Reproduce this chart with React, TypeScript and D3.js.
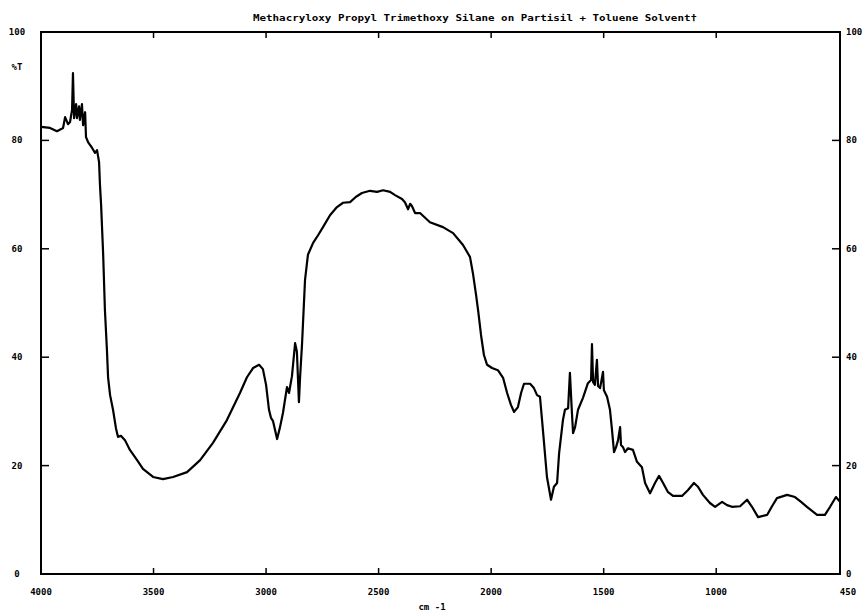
import React from "react";
import * as d3 from "d3";

// Wavenumbers (cm-1) and transmittance (%T)
const wavenumbers: number[] = [
  4000, 3960, 3929, 3902, 3893, 3880, 3871, 3862, 3858, 3853, 3844, 3840, 3831, 3827, 3818, 3813, 3804, 3800,
  3791, 3773, 3760, 3751, 3742, 3738, 3733, 3724, 3716, 3707, 3702, 3693, 3680, 3667, 3658, 3645, 3627, 3605,
  3573, 3547, 3502, 3458, 3413, 3351, 3293, 3236, 3174, 3116, 3085, 3058, 3031, 3014, 3000, 2987, 2978, 2969,
  2951, 2938, 2925, 2907, 2898, 2885, 2871, 2863, 2854, 2849, 2840, 2827, 2814, 2791, 2769, 2747, 2716, 2685,
  2658, 2627, 2600, 2574, 2538, 2507, 2480, 2449, 2427, 2396, 2383, 2369, 2360, 2352, 2338, 2316, 2272, 2214,
  2169, 2125, 2094, 2081, 2067, 2058, 2045, 2032, 2018, 1996, 1970, 1947, 1929, 1912, 1898, 1881, 1867, 1854,
  1827, 1810, 1796, 1783, 1770, 1752, 1734, 1721, 1707, 1698, 1681, 1672, 1658, 1650, 1641, 1636, 1627, 1614,
  1592, 1570, 1556, 1552, 1547, 1539, 1530, 1525, 1516, 1503, 1499, 1485, 1472, 1463, 1454, 1445, 1436, 1427,
  1423, 1414, 1405, 1392, 1370, 1352, 1330, 1316, 1294, 1272, 1254, 1236, 1214, 1192, 1152, 1125, 1099, 1081,
  1059, 1028, 1005, 974, 952, 930, 894, 863, 841, 814, 774, 752, 730, 685, 650, 623, 597, 552, 517, 494, 468, 450,
];
const transmittance: number[] = [
  82.5, 82.3, 81.7, 82.3, 84.3, 83.0, 83.4, 85.6, 92.4, 84.1, 86.7, 84.1, 86.3, 83.8, 86.7, 82.8, 85.2, 80.6,
  79.7, 78.6, 77.7, 78.2, 76.0, 71.8, 68.1, 59.2, 48.7, 41.3, 36.3, 33.0, 30.3, 26.9, 25.3, 25.5, 24.7, 22.9,
  21.0, 19.4, 17.9, 17.5, 17.9, 18.8, 21.0, 24.2, 28.4, 33.4, 36.3, 38.0, 38.6, 37.8, 34.9, 30.3, 28.8, 28.2,
  24.9, 27.1, 29.7, 34.5, 33.4, 36.5, 42.6, 41.0, 31.7, 36.2, 42.6, 54.2, 58.9, 61.1, 62.5, 64.0, 66.2, 67.7,
  68.5, 68.6, 69.6, 70.3, 70.7, 70.5, 70.8, 70.5, 69.9, 69.2, 68.6, 67.3, 68.3, 67.9, 66.6, 66.6, 64.9, 64.0,
  62.9, 60.7, 58.5, 55.5, 51.5, 48.7, 44.1, 40.4, 38.6, 38.0, 37.6, 36.2, 33.4, 31.2, 29.9, 30.8, 33.4, 35.1,
  35.1, 34.3, 33.0, 32.7, 26.6, 17.9, 13.7, 16.1, 16.8, 22.3, 28.4, 30.3, 30.6, 37.1, 29.7, 26.0, 27.1, 30.3,
  32.5, 35.2, 35.8, 42.4, 35.4, 34.9, 39.5, 34.7, 34.3, 37.3, 33.9, 32.7, 30.3, 26.6, 22.5, 23.4, 24.7, 27.1,
  23.8, 23.4, 22.5, 23.2, 22.9, 20.7, 19.7, 16.8, 14.9, 16.8, 18.1, 16.8, 15.1, 14.4, 14.4, 15.5, 16.8, 16.1,
  14.6, 13.1, 12.4, 13.3, 12.7, 12.4, 12.5, 13.7, 12.4, 10.5, 10.9, 12.5, 14.0, 14.6, 14.2, 13.3, 12.4, 10.9, 10.9, 12.4, 14.2, 13.3,
];

const xTickValues: number[] = [3500, 3000, 2500, 2000, 1500, 1000];
const xLabelValues: number[] = [4000, 3500, 3000, 2500, 2000, 1500, 1000, 450];
const yTickValues: number[] = [20, 40, 60, 80];
const yLabelValues: number[] = [0, 20, 40, 60, 80, 100];

const title = "Methacryloxy Propyl Trimethoxy Silane on Partisil + Toluene Solvent\u2020";
const xTitle = "cm -1";
const yUnit = "%T";

const W = 864;
const H = 616;
const L = 41, R = 840, T = 32, B = 574;

export default function App() {
  const x = d3.scaleLinear().domain([4000, 450]).range([L, R]);
  const y = d3.scaleLinear().domain([0, 100]).range([B, T]);
  const pts = wavenumbers.map((w, i) => [w, transmittance[i]] as [number, number]);
  const line = d3
    .line<[number, number]>()
    .x((d) => x(d[0]))
    .y((d) => y(d[1]))
    .curve(d3.curveLinear);
  const font = "'DejaVu Sans Mono', monospace";
  return (
    <svg
      width={W}
      height={H}
      style={{ position: "absolute", left: 0, top: 0, background: "#fff" }}
      fontFamily={font}
      fontWeight="bold"
    >
      <rect x={0} y={0} width={W} height={H} fill="#fff" />
      <text x={475} y={21} fontSize={9} textAnchor="middle" textLength={444} lengthAdjust="spacingAndGlyphs">
        {title}
      </text>
      <rect x={L} y={T} width={R - L} height={B - T} fill="none" stroke="#000" strokeWidth={2} />
      {xTickValues.map((v) => (
        <g key={"xt" + v}>
          <line x1={x(v)} x2={x(v)} y1={T} y2={T + 6} stroke="#000" strokeWidth={1.5} />
          <line x1={x(v)} x2={x(v)} y1={B} y2={B - 6} stroke="#000" strokeWidth={1.5} />
        </g>
      ))}
      {yTickValues.map((v) => (
        <g key={"yt" + v}>
          <line x1={L} x2={L + 8} y1={y(v)} y2={y(v)} stroke="#000" strokeWidth={1.5} />
          <line x1={R} x2={R - 8} y1={y(v)} y2={y(v)} stroke="#000" strokeWidth={1.5} />
        </g>
      ))}
      {xLabelValues.map((v) => (
        <text key={"xl" + v} x={v === 450 ? x(v) + 8 : x(v)} y={595} fontSize={9} textAnchor="middle">
          {v}
        </text>
      ))}
      {yLabelValues.map((v) => (
        <g key={"yl" + v}>
          <text x={17} y={y(v) + 3} fontSize={9} textAnchor="middle">
            {v}
          </text>
          <text x={846} y={y(v) + 3} fontSize={9} textAnchor="start">
            {v}
          </text>
        </g>
      ))}
      <text x={17} y={70} fontSize={9} textAnchor="middle">
        {yUnit}
      </text>
      <text x={432} y={610} fontSize={9} textAnchor="middle">
        {xTitle}
      </text>
      <path d={line(pts) || ""} fill="none" stroke="#000" strokeWidth={2.2} strokeLinejoin="round" />
    </svg>
  );
}
